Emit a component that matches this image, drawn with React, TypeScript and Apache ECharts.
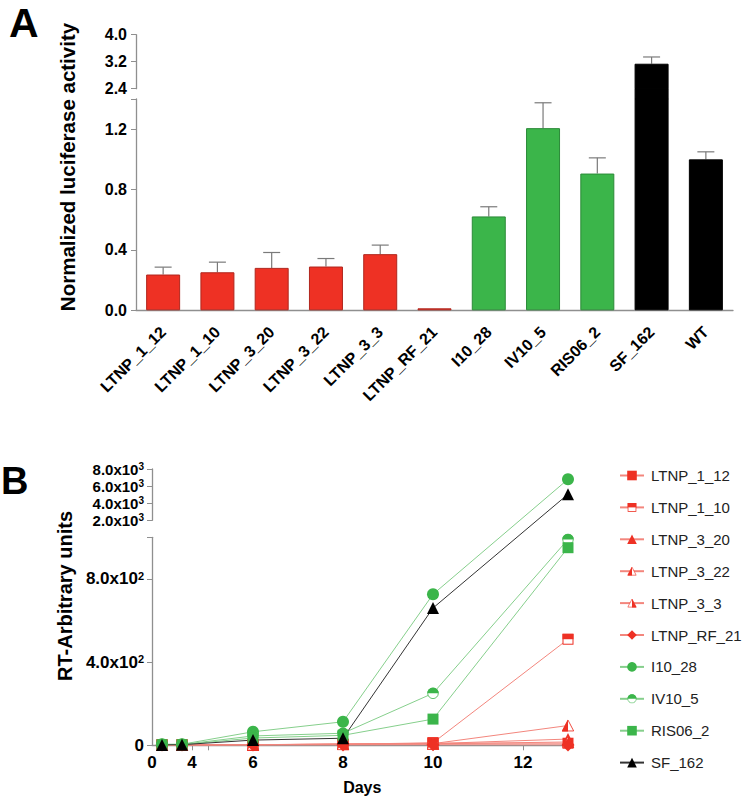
import React, { useEffect, useRef } from 'react';
import * as echarts from 'echarts';

const FONT = "'Liberation Sans', Arial, Helvetica, sans-serif";

// ---------- Panel A data ----------
const strains = ['LTNP_1_12', 'LTNP_1_10', 'LTNP_3_20', 'LTNP_3_22', 'LTNP_3_3', 'LTNP_RF_21', 'I10_28', 'IV10_5', 'RIS06_2', 'SF_162', 'WT'];
const strainGroup = ['ltnp', 'ltnp', 'ltnp', 'ltnp', 'ltnp', 'ltnp', 'prog', 'prog', 'prog', 'ctrl', 'ctrl'];
const luciferaseMean = [0.237, 0.252, 0.281, 0.29, 0.372, 0.013, 0.622, 1.207, 0.906, 3.14, 1.0];
const luciferaseSEM = [0.049, 0.067, 0.102, 0.053, 0.06, 0, 0.064, 0.168, 0.104, 0.2, 0.05];
const aLowLabels = [0, 0.4, 0.8, 1.2];
const aLowTicks = [0, 0.4, 0.8, 1.2, 1.4];
const aHighLabels = [2.4, 3.2, 4.0];

// ---------- Panel B data ----------
const days = [1, 3, 6, 8, 10, 13];
const LTNP_1_12 = [2, 2, 3, 5, 10, 10];
const LTNP_1_10 = [2, 2, 3, 5, 12, 510];
const LTNP_3_20 = [2, 2, 3, 6, 8, 30];
const LTNP_3_22 = [2, 2, 3, 6, 8, 95];
const LTNP_3_3 = [2, 2, 3, 5, 7, 16];
const LTNP_RF_21 = [1, 1, 1, 2, 3, 2];
const I10_28 = [5, 5, 65, 113, 726, 6800];
const IV10_5 = [4, 4, 45, 58, 250, 990];
const RIS06_2 = [3, 3, 35, 48, 126, 950];
const SF_162 = [2, 3, 25, 34, 660, 5050];
const bXLabels = [0, 4, 6, 8, 10, 12];
const bXTicks = [4, 5, 6, 8, 10, 12];
const bLowLabels = [0, 400, 800];
const bLowTicks = [0, 400, 800, 1000];
const bHighLabels = [2000, 4000, 6000, 8000];

// ---------- styling ----------
const RED = '#EE3124';
const GREEN = '#3BB54A';
const BLACK = '#000000';
const groupFill: Record<string, string> = { ltnp: RED, prog: GREEN, ctrl: BLACK };
const groupBorder: Record<string, string> = { ltnp: '#B0261D', prog: '#2B8A38', ctrl: '#000' };
const AXIS = '#8F8F8F';

// ---------- Panel A layout ----------
const A_LEFT = 136, A_WIDTH = 597;
const A_LOW_TOP = 99, A_LOW_H = 211.3;
const A_GAP_TOP = 88.7, A_GAP_H = 10.3;
const A_HIGH_TOP = 34.7, A_HIGH_H = 54;

// ---------- Panel B layout (piecewise broken scales) ----------
const B_LEFT = 152, B_TOP = 469;
const B_X1_PX = 40, B_XGAP_PX = 16, B_X2_PXPERDAY = 45; // 0-4 | gap 4-5 | 5-...
const B_XMAX_DAY = 13.1;
const B_LOW_PX = 208, B_YGAP_PX = 17, B_HIGH_PX = 51.3; // 0-1000 | gap | 2000-8000
const toDispX = (d: number) => d <= 4 ? d * (B_X1_PX / 4) : d <= 5 ? B_X1_PX + (d - 4) * B_XGAP_PX : B_X1_PX + B_XGAP_PX + (d - 5) * B_X2_PXPERDAY;
const fromDispX = (v: number) => v <= B_X1_PX ? v / (B_X1_PX / 4) : v <= B_X1_PX + B_XGAP_PX ? 4 + (v - B_X1_PX) / B_XGAP_PX : 5 + (v - B_X1_PX - B_XGAP_PX) / B_X2_PXPERDAY;
const toDispY = (v: number) => v <= 1000 ? v * (B_LOW_PX / 1000) : v <= 2000 ? B_LOW_PX + (v - 1000) * (B_YGAP_PX / 1000) : B_LOW_PX + B_YGAP_PX + (v - 2000) * (B_HIGH_PX / 6000);
const B_WIDTH = toDispX(B_XMAX_DAY);
const B_HEIGHT = toDispY(8000);

const svgUri = (body: string) =>
  'image://data:image/svg+xml;charset=utf-8,' +
  encodeURIComponent(`<svg xmlns="http://www.w3.org/2000/svg" width="24" height="24" viewBox="0 0 24 24">${body}</svg>`);
const halfSquare = (c: string) => svgUri(`<rect x="2" y="2" width="20" height="20" fill="#fff" stroke="${c}" stroke-width="2"/><rect x="1" y="1" width="22" height="11" fill="${c}"/>`);
const halfCircle = (c: string) => svgUri(`<circle cx="12" cy="12" r="10.6" fill="#fff" stroke="${c}" stroke-width="1.6"/><path d="M0.6 12 A11.4 11.4 0 0 1 23.4 12 Z" fill="${c}"/>`);
const halfTriangle = (c: string, side: 'left' | 'right') =>
  svgUri(`<polygon points="12,2 22.5,22 1.5,22" fill="#fff" stroke="${c}" stroke-width="1.6"/>` +
    (side === 'left' ? `<polygon points="12,1 12,23 0.5,23" fill="${c}"/>` : `<polygon points="12,1 23.5,23 12,23" fill="${c}"/>`));

const bSeriesDefs = [
  { name: 'LTNP_1_12', values: LTNP_1_12, color: RED, line: '#F3867D', symbol: 'rect', size: 11 },
  { name: 'LTNP_1_10', values: LTNP_1_10, color: RED, line: '#F3867D', symbol: halfSquare(RED), size: 12 },
  { name: 'LTNP_3_20', values: LTNP_3_20, color: RED, line: '#F3867D', symbol: 'triangle', size: 12 },
  { name: 'LTNP_3_22', values: LTNP_3_22, color: RED, line: '#F3867D', symbol: halfTriangle(RED, 'left'), size: 13 },
  { name: 'LTNP_3_3', values: LTNP_3_3, color: RED, line: '#F3867D', symbol: halfTriangle(RED, 'right'), size: 13 },
  { name: 'LTNP_RF_21', values: LTNP_RF_21, color: RED, line: '#F3867D', symbol: 'diamond', size: 13 },
  { name: 'I10_28', values: I10_28, color: GREEN, line: '#86CF8C', symbol: 'circle', size: 12 },
  { name: 'IV10_5', values: IV10_5, color: GREEN, line: '#86CF8C', symbol: halfCircle(GREEN), size: 12 },
  { name: 'RIS06_2', values: RIS06_2, color: GREEN, line: '#86CF8C', symbol: 'rect', size: 11 },
  { name: 'SF_162', values: SF_162, color: BLACK, line: '#333333', symbol: 'triangle', size: 12 },
];

const sciFmt = (v: number) => {
  if (v === 0) return '0';
  const e = Math.floor(Math.log10(v) + 1e-9);
  const m = v / Math.pow(10, e);
  return `${m.toFixed(1)}x10{sup|${e}}`;
};

const boldLabel = (size: number) => ({ color: '#000', fontWeight: 'bold' as const, fontSize: size, fontFamily: FONT });

function buildOption() {
  const barData = luciferaseMean.map((v, i) => ({
    value: v,
    itemStyle: { color: groupFill[strainGroup[i]], borderColor: groupBorder[strainGroup[i]], borderWidth: 1 },
  }));
  const errLow = strains
    .map((s, i) => [s, luciferaseMean[i], luciferaseMean[i] + luciferaseSEM[i]])
    .filter((d, i) => luciferaseSEM[i] > 0 && (d[2] as number) <= 1.4);
  const errHigh = strains
    .map((s, i) => [s, luciferaseMean[i], luciferaseMean[i] + luciferaseSEM[i]])
    .filter((d) => (d[1] as number) >= 2.4);

  const errRender = (_p: any, api: any) => {
    const x = api.value(0);
    const p0 = api.coord([x, api.value(1)]);
    const p1 = api.coord([x, api.value(2)]);
    const cap = 8.5;
    const st = { stroke: '#7A7A7A', lineWidth: 1.2 };
    return {
      type: 'group',
      children: [
        { type: 'line', shape: { x1: p0[0], y1: p0[1], x2: p1[0], y2: p1[1] }, style: st },
        { type: 'line', shape: { x1: p1[0] - cap, y1: p1[1], x2: p1[0] + cap, y2: p1[1] }, style: st },
      ],
    };
  };

  const hiddenCat = (gi: number) => ({ type: 'category', gridIndex: gi, data: strains, show: false });

  const bLines = bSeriesDefs.map((s) => ({
    name: s.name,
    type: 'line',
    xAxisIndex: 3,
    yAxisIndex: 3,
    data: days.map((d, i) => [toDispX(d), toDispY(s.values[i])]),
    symbol: s.symbol,
    symbolSize: s.size,
    showSymbol: true,
    itemStyle: { color: s.color },
    lineStyle: { color: s.line, width: 1 },
    emphasis: { disabled: true },
  }));

  return {
    animation: false,
    backgroundColor: '#fff',
    textStyle: { fontFamily: FONT },
    grid: [
      { left: A_LEFT, top: A_LOW_TOP, width: A_WIDTH, height: A_LOW_H },
      { left: A_LEFT, top: A_GAP_TOP, width: A_WIDTH, height: A_GAP_H },
      { left: A_LEFT, top: A_HIGH_TOP, width: A_WIDTH, height: A_HIGH_H },
      { left: B_LEFT, top: B_TOP, width: B_WIDTH, height: B_HEIGHT },
      { left: B_LEFT, top: B_TOP + B_HEIGHT - B_LOW_PX, width: B_WIDTH, height: B_LOW_PX },
      { left: B_LEFT, top: B_TOP, width: B_WIDTH, height: B_HIGH_PX },
    ],
    xAxis: [
      {
        type: 'category', gridIndex: 0, data: strains,
        axisLine: { lineStyle: { color: AXIS, width: 1.3 } },
        axisTick: { show: false },
        axisLabel: { ...boldLabel(16), rotate: 45, interval: 0, margin: 19 },
      },
      hiddenCat(1),
      hiddenCat(2),
      {
        type: 'value', gridIndex: 3, min: 0, max: B_WIDTH,
        splitLine: { show: false },
        axisLine: { lineStyle: { color: AXIS, width: 1.3 } },
        axisTick: { length: 5, lineStyle: { color: AXIS }, customValues: bXTicks.map(toDispX) },
        axisLabel: {
          ...boldLabel(17), margin: 9,
          customValues: bXLabels.map(toDispX),
          formatter: (v: number) => String(Math.round(fromDispX(v))),
        },
        name: 'Days', nameLocation: 'middle', nameGap: 34,
        nameTextStyle: { ...boldLabel(16) },
      },
      { type: 'value', gridIndex: 4, min: 0, max: 1, show: false },
      { type: 'value', gridIndex: 5, min: 0, max: 1, show: false },
    ],
    yAxis: [
      {
        type: 'value', gridIndex: 0, min: 0, max: 1.4,
        splitLine: { show: false },
        axisLine: { show: true, lineStyle: { color: AXIS, width: 1.3 } },
        axisTick: { show: true, length: 5, lineStyle: { color: AXIS }, customValues: aLowTicks },
        axisLabel: { ...boldLabel(16), margin: 9, customValues: aLowLabels, formatter: (v: number) => v.toFixed(1) },
      },
      { type: 'value', gridIndex: 1, min: 1.4, max: 2.4, show: false },
      {
        type: 'value', gridIndex: 2, min: 2.4, max: 4.0,
        splitLine: { show: false },
        axisLine: { show: true, lineStyle: { color: AXIS, width: 1.3 } },
        axisTick: { show: true, length: 5, lineStyle: { color: AXIS }, customValues: aHighLabels },
        axisLabel: { ...boldLabel(16), margin: 9, customValues: aHighLabels, formatter: (v: number) => v.toFixed(1) },
      },
      { type: 'value', gridIndex: 3, min: 0, max: B_HEIGHT, show: false },
      {
        type: 'value', gridIndex: 4, min: 0, max: 1000,
        splitLine: { show: false },
        axisLine: { show: true, lineStyle: { color: AXIS, width: 1.3 } },
        axisTick: { show: true, length: 5, lineStyle: { color: AXIS }, customValues: bLowTicks },
        axisLabel: {
          ...boldLabel(17), margin: 8, customValues: bLowLabels, formatter: sciFmt,
          rich: { sup: { fontSize: 11, fontWeight: 'bold', color: '#000', fontFamily: FONT, verticalAlign: 'top', lineHeight: 10 } },
        },
      },
      {
        type: 'value', gridIndex: 5, min: 2000, max: 8000,
        splitLine: { show: false },
        axisLine: { show: true, lineStyle: { color: AXIS, width: 1.3 } },
        axisTick: { show: true, length: 5, lineStyle: { color: AXIS }, customValues: bHighLabels },
        axisLabel: {
          ...boldLabel(15), margin: 8, customValues: bHighLabels, formatter: sciFmt,
          rich: { sup: { fontSize: 10, fontWeight: 'bold', color: '#000', fontFamily: FONT, verticalAlign: 'top', lineHeight: 9 } },
        },
      },
    ],
    legend: {
      data: bSeriesDefs.map((s) => s.name),
      orient: 'vertical',
      left: 614,
      top: 463,
      itemWidth: 24,
      itemHeight: 12,
      itemGap: 16.9,
      selectedMode: false,
      textStyle: { fontSize: 15, color: '#222', fontFamily: FONT, lineHeight: 14, padding: [0, 0, 0, 2] },
    },
    graphic: [
      { type: 'text', left: 9, top: 2, style: { text: 'A', fontSize: 41, lineHeight: 34, fontWeight: 'bold', fill: '#000', fontFamily: FONT } },
      { type: 'text', left: 1, top: 462, style: { text: 'B', fontSize: 38, lineHeight: 36, fontWeight: 'bold', fill: '#000', fontFamily: FONT } },
      {
        type: 'text', x: 67, y: 167, rotation: Math.PI / 2,
        style: { text: 'Normalized luciferase activity', fontSize: 20.5, fontWeight: 'bold', fill: '#000', fontFamily: FONT, align: 'center', verticalAlign: 'middle' },
      },
      {
        type: 'text', x: 65, y: 596, rotation: Math.PI / 2,
        style: { text: 'RT-Arbitrary units', fontSize: 20, fontWeight: 'bold', fill: '#000', fontFamily: FONT, align: 'center', verticalAlign: 'middle' },
      },
    ],
    series: [
      { name: 'barsLow', type: 'bar', xAxisIndex: 0, yAxisIndex: 0, data: barData, barWidth: 34, clip: true, emphasis: { disabled: true } },
      { name: 'barsGap', type: 'bar', xAxisIndex: 1, yAxisIndex: 1, data: barData, barWidth: 34, clip: true, emphasis: { disabled: true } },
      { name: 'barsHigh', type: 'bar', xAxisIndex: 2, yAxisIndex: 2, data: barData, barWidth: 34, clip: true, emphasis: { disabled: true } },
      { name: 'errLow', type: 'custom', xAxisIndex: 0, yAxisIndex: 0, data: errLow, renderItem: errRender, encode: { x: 0, y: [1, 2] }, z: 1 },
      { name: 'errHigh', type: 'custom', xAxisIndex: 2, yAxisIndex: 2, data: errHigh, renderItem: errRender, encode: { x: 0, y: [1, 2] }, z: 1 },
      ...bLines,
    ],
  };
}

export default function App() {
  const ref = useRef<HTMLDivElement>(null);
  useEffect(() => {
    if (!ref.current) return;
    const chart = echarts.init(ref.current, null, { renderer: 'svg' });
    chart.setOption(buildOption() as any);
    return () => chart.dispose();
  }, []);
  return (
    <div
      ref={ref}
      style={{ position: 'fixed', left: 0, top: 0, width: 747, height: 800, background: '#fff' }}
    />
  );
}
